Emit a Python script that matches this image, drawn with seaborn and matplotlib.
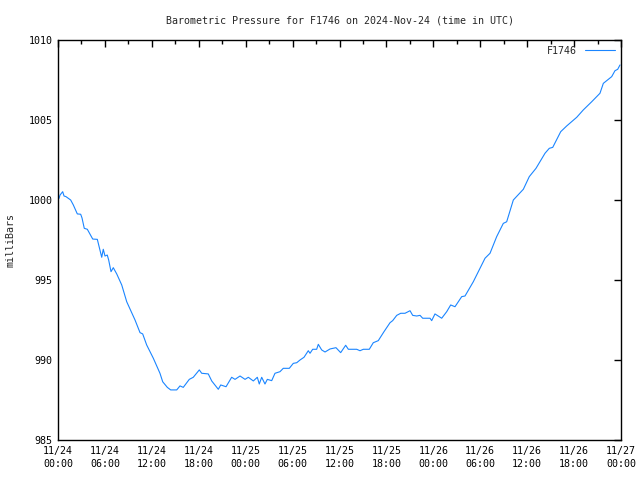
import matplotlib
matplotlib.use("Agg")
import matplotlib.pyplot as plt
import matplotlib.dates as mdates
import seaborn as sns
import pandas as pd

hours = [0.13, 0.26, 0.60, 0.77, 1.02, 1.62, 1.96, 2.47, 2.90, 3.07, 3.36, 3.75, 4.44, 5.03, 5.28,
         5.59, 5.79, 6.01, 6.30, 6.48, 6.78, 7.07, 7.51, 8.15, 8.79, 9.85, 10.49, 10.83, 11.34,
         12.19, 13.04, 13.39, 13.98, 14.41, 15.18, 15.60, 16.02, 16.79, 17.30, 18.07, 18.38,
         19.22, 19.66, 20.50, 20.81, 21.49, 22.21, 22.64, 23.28, 23.92, 24.34, 24.98, 25.49,
         25.74, 26.05, 26.47, 26.77, 27.33, 27.75, 28.39, 28.81, 29.58, 30.09, 30.53, 30.95,
         31.46, 32.01, 32.23, 32.57, 33.08, 33.29, 33.72, 34.15, 34.79, 35.55, 36.15, 36.79,
         37.13, 38.20, 38.62, 39.05, 39.81, 40.32, 40.96, 41.69, 42.46, 42.80, 43.32, 43.83,
         44.38, 45.02, 45.36, 45.87, 46.30, 46.64, 47.58, 47.79, 48.21, 49.07, 49.71, 50.22,
         50.77, 51.63, 52.05, 53.11, 54.61, 55.25, 56.10, 56.95, 57.38, 58.23, 59.51, 60.27,
         61.13, 62.28, 62.83, 63.27, 64.29, 65.06, 66.34, 67.18, 68.25, 69.31, 69.74, 70.81,
         71.23, 71.58, 71.87]
pressure = [1000.1, 1000.31, 1000.52, 1000.25, 1000.21, 1000.0, 999.69, 999.13, 999.11, 998.88,
            998.23, 998.17, 997.56, 997.54, 997.04, 996.42, 996.92, 996.5, 996.56, 996.25,
            995.52, 995.77, 995.38, 994.69, 993.64, 992.5, 991.71, 991.63, 990.94, 990.11,
            989.17, 988.64, 988.29, 988.13, 988.13, 988.38, 988.29, 988.79, 988.92, 989.38,
            989.17, 989.13, 988.69, 988.17, 988.44, 988.33, 988.92, 988.79, 989.0, 988.79,
            988.92, 988.69, 988.92, 988.5, 988.92, 988.5, 988.79, 988.71, 989.17, 989.27,
            989.48, 989.48, 989.79, 989.83, 990.0, 990.17, 990.58, 990.42, 990.67, 990.67,
            990.98, 990.63, 990.5, 990.69, 990.77, 990.46, 990.92, 990.67, 990.67, 990.58,
            990.67, 990.67, 991.08, 991.21, 991.77, 992.33, 992.46, 992.79, 992.92, 992.92,
            993.08, 992.79, 992.75, 992.79, 992.61, 992.61, 992.46, 992.88, 992.61, 993.02,
            993.44, 993.33, 993.96, 994.0, 994.89, 996.36, 996.67, 997.71, 998.54, 998.64,
            1000.0, 1000.67, 1001.46, 1001.98, 1002.92, 1003.23, 1003.29, 1004.27, 1004.63,
            1005.17, 1005.63, 1006.14, 1006.67, 1007.29, 1007.71, 1008.08, 1008.17, 1008.44]
series_name = "F1746"
start = pd.Timestamp("2024-11-24 00:00")
end = pd.Timestamp("2024-11-27 00:00")
y_ticks = [985, 990, 995, 1000, 1005, 1010]

df = pd.DataFrame({
    "time": [start + pd.Timedelta(hours=h) for h in hours],
    "pressure": pressure,
    "series": series_name,
})

sns.set_style("white")
plt.rcParams["font.family"] = ["DejaVu Sans Mono"]
plt.rcParams["font.size"] = 7.2

fig = plt.figure(figsize=(6.4, 4.8), dpi=100)
ax = fig.add_axes([58 / 640, 40 / 480, 563 / 640, 400 / 480])
line_color = "#1a85ff"
sns.lineplot(data=df, x="time", y="pressure", hue="series", palette=[line_color],
             linewidth=0.8, ax=ax)

ax.set_xlim(start, end)
ax.set_ylim(985, 1010)
ax.set_yticks(y_ticks)
ax.xaxis.set_major_locator(mdates.HourLocator(byhour=[0, 6, 12, 18]))
ax.xaxis.set_minor_locator(mdates.HourLocator(byhour=[3, 9, 15, 21]))
ax.xaxis.set_major_formatter(mdates.DateFormatter("%m/%d\n%H:%M"))
ax.tick_params(axis="both", which="both", direction="in", top=True, right=True,
               labelsize=7.2, colors="black", width=1)
ax.tick_params(axis="both", which="major", length=5, pad=4)
ax.tick_params(axis="x", which="minor", length=3)
for s in ax.spines.values():
    s.set_color("black")
    s.set_linewidth(1)

ax.set_xlabel("")
ax.set_ylabel("milliBars", fontsize=7.2)
ax.yaxis.set_label_coords(-0.076, 0.5)
ax.set_title("Barometric Pressure for F1746 on 2024-Nov-24 (time in UTC)", fontsize=7.2, pad=12)

leg = ax.legend(loc="upper right", frameon=False, fontsize=7.2, markerfirst=False,
                handlelength=3.0, borderaxespad=0.2)

fig.canvas.draw()
for lbl in ax.get_xticklabels():
    lbl.set_linespacing(1.45)

fig.savefig("out.png", dpi=100)
